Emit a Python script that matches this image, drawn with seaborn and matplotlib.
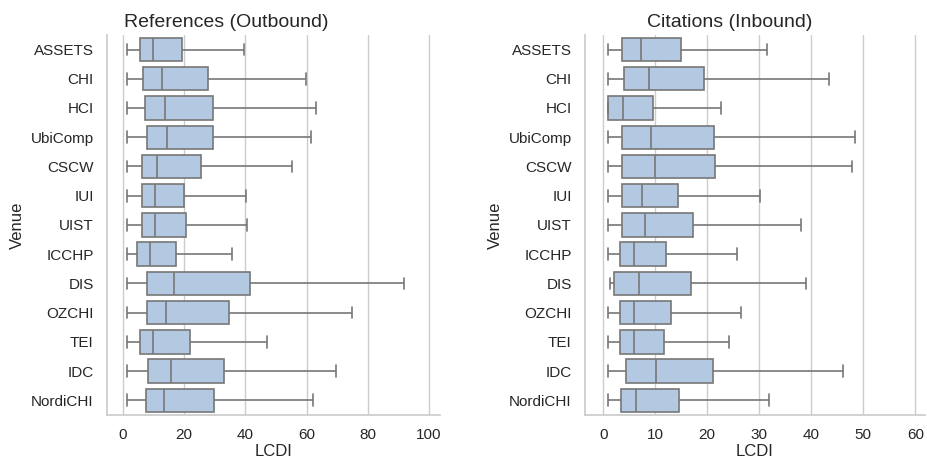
import matplotlib
matplotlib.use("Agg")
import matplotlib.pyplot as plt
import numpy as np
import pandas as pd
import seaborn as sns

venues = ["ASSETS", "CHI", "HCI", "UbiComp", "CSCW", "IUI", "UIST",
          "ICCHP", "DIS", "OZCHI", "TEI", "IDC", "NordiCHI"]

# five-number summaries: low whisker, q1, median, q3, high whisker
ref_lo = [1.3] * 13
ref_q1 = [5.6, 6.5, 7.2, 7.8, 6.2, 6.2, 6.2, 4.6, 7.8, 7.8, 5.6, 8.2, 7.5]
ref_med = [9.8, 12.7, 13.7, 14.4, 11.1, 10.5, 10.5, 8.8, 16.7, 14.0, 9.8, 15.7, 13.4]
ref_q3 = [19.3, 27.8, 29.4, 29.4, 25.5, 19.9, 20.6, 17.3, 41.5, 34.6, 21.9, 33.0, 29.7]
ref_hi = [39.5, 59.8, 63.0, 61.4, 55.2, 40.2, 40.5, 35.6, 91.8, 74.8, 47.0, 69.6, 62.0]

cit_lo = [1.0, 1.0, 1.0, 1.0, 1.0, 1.0, 1.0, 1.0, 1.3, 1.0, 1.0, 1.0, 1.0]
cit_q1 = [3.7, 4.0, 1.0, 3.7, 3.7, 3.7, 3.7, 3.3, 2.1, 3.3, 3.3, 4.4, 3.5]
cit_med = [7.3, 8.8, 3.8, 9.2, 10.0, 7.5, 8.1, 6.0, 6.9, 6.0, 6.0, 10.2, 6.3]
cit_q3 = [15.0, 19.4, 9.6, 21.3, 21.5, 14.4, 17.3, 12.1, 16.9, 13.1, 11.7, 21.2, 14.6]
cit_hi = [31.5, 43.5, 22.7, 48.5, 47.9, 30.2, 38.0, 25.8, 39.0, 26.5, 24.2, 46.2, 31.9]


def to_long(lo, q1, med, q3, hi):
    rows = []
    for v, a, b, c, d, e in zip(venues, lo, q1, med, q3, hi):
        for x in (a, b, c, d, e):
            rows.append({"Venue": v, "LCDI": x})
    return pd.DataFrame(rows)


sns.set_theme(style="whitegrid")
plt.rcParams["font.family"] = ["Liberation Sans", "DejaVu Sans"]
fig = plt.figure(figsize=(9.27, 4.59), dpi=100)
axes = [fig.add_axes([0.1154, 0.096, 0.3592, 0.828]),
        fig.add_axes([0.631, 0.096, 0.367, 0.828])]

panels = [
    (to_long(ref_lo, ref_q1, ref_med, ref_q3, ref_hi), "References (Outbound)", (-5.2, 103.6), range(0, 101, 20), 0.357),
    (to_long(cit_lo, cit_q1, cit_med, cit_q3, cit_hi), "Citations (Inbound)", (-3.5, 61.9), range(0, 61, 10), 0.426),
]
for ax, (df, title, lim, ticks, tx) in zip(axes, panels):
    sns.boxplot(data=df, x="LCDI", y="Venue", order=venues, ax=ax,
                color="#abc9ea", whis=np.inf, width=0.8, linewidth=1.2,
                linecolor="#777777")
    ax.set_title(title, fontsize=14, x=tx)
    ax.set_xlim(*lim)
    ax.set_xticks(list(ticks))
    ax.set_xlabel("LCDI", fontsize=12, labelpad=1)
    ax.set_ylabel("Venue", fontsize=12)
    ax.tick_params(labelsize=11)
    sns.despine(ax=ax)

plt.savefig("out.png")
